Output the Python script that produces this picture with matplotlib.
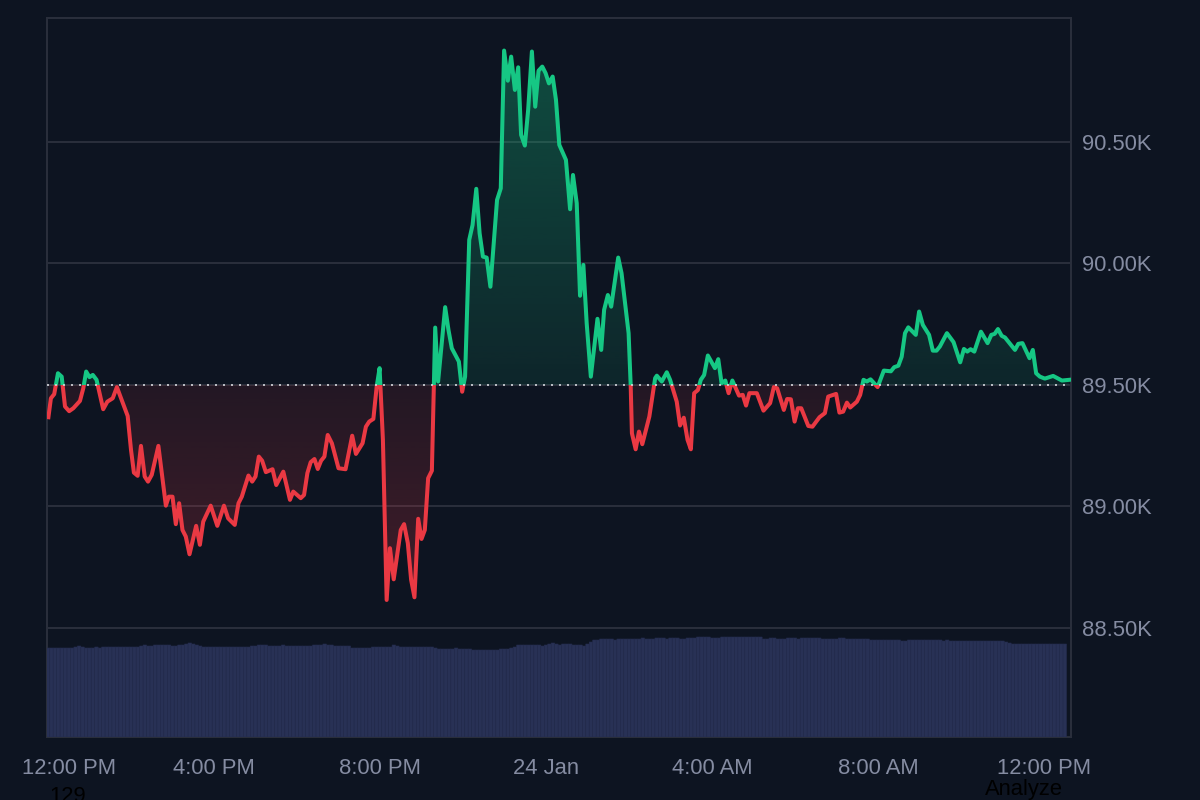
import numpy as np
from matplotlib import pyplot as plt
from matplotlib.path import Path
from matplotlib.patches import Rectangle

plt.rcParams['font.family'] = ['Liberation Sans', 'DejaVu Sans']

BG = '#0d1421'
GRID = '#2a2f3c'
TEXT = '#858ca2'
GREEN = '#16c784'
RED = '#ea3943'
VOL = '#283155'

# hours since 12:00 PM, price in thousands
hours = [0.01, 0.07, 0.15, 0.24, 0.33, 0.41, 0.51, 0.61, 0.77, 0.85, 0.92, 1.00, 1.08, 1.17, 1.33, 1.43, 1.56, 1.66, 1.92, 2.00,
         2.07, 2.16, 2.24, 2.33, 2.41, 2.50, 2.66, 2.84, 2.91, 3.00, 3.08, 3.16, 3.24, 3.32, 3.41, 3.57, 3.66, 3.74, 3.92, 4.08,
         4.24, 4.34, 4.50, 4.59, 4.67, 4.83, 4.92, 5.00, 5.08, 5.16, 5.25, 5.41, 5.50, 5.67, 5.83, 5.91, 6.09, 6.17, 6.25, 6.33,
         6.42, 6.50, 6.58, 6.66, 6.74, 6.84, 7.00, 7.17, 7.33, 7.42, 7.58, 7.66, 7.74, 7.84, 7.92, 7.99, 8.07, 8.16, 8.24, 8.33,
         8.50, 8.58, 8.67, 8.75, 8.83, 8.92, 9.00, 9.08, 9.16, 9.25, 9.33, 9.40, 9.57, 9.65, 9.73, 9.90, 9.98, 10.05, 10.15, 10.23,
         10.32, 10.40, 10.48, 10.57, 10.66, 10.82, 10.91, 10.99, 11.08, 11.16, 11.25, 11.33, 11.40, 11.49, 11.57, 11.66, 11.74, 11.82, 11.91, 11.99,
         12.07, 12.16, 12.24, 12.32, 12.48, 12.58, 12.65, 12.74, 12.82, 12.90, 12.98, 13.08, 13.24, 13.33, 13.40, 13.49, 13.57, 13.74, 13.82, 13.99,
         14.04, 14.07, 14.16, 14.24, 14.32, 14.49, 14.63, 14.67, 14.79, 14.91, 14.99, 15.15, 15.23, 15.32, 15.41, 15.49, 15.57, 15.66, 15.73, 15.81,
         15.90, 16.07, 16.15, 16.23, 16.32, 16.40, 16.49, 16.65, 16.74, 16.82, 16.90, 17.08, 17.24, 17.40, 17.49, 17.57, 17.73, 17.81, 17.90, 17.99,
         18.07, 18.15, 18.32, 18.42, 18.59, 18.72, 18.80, 18.99, 19.07, 19.16, 19.25, 19.33, 19.49, 19.57, 19.65, 19.73, 19.82, 19.99, 20.14, 20.31,
         20.39, 20.49, 20.57, 20.65, 20.73, 20.91, 20.99, 21.08, 21.23, 21.32, 21.41, 21.49, 21.66, 21.82, 21.98, 22.07, 22.15, 22.23, 22.32, 22.48,
         22.64, 22.73, 22.81, 22.89, 22.98, 23.06, 23.30, 23.38, 23.48, 23.65, 23.73, 23.81, 23.90, 24.02, 24.22, 24.43, 24.61]

prices = [89.367, 89.445, 89.462, 89.548, 89.534, 89.411, 89.392, 89.404, 89.434, 89.486, 89.555, 89.532, 89.541, 89.521, 89.400, 89.431, 89.445, 89.491, 89.372, 89.233,
          89.139, 89.126, 89.249, 89.123, 89.102, 89.130, 89.249, 89.003, 89.040, 89.040, 88.927, 89.013, 88.903, 88.876, 88.803, 88.920, 88.842, 88.937, 89.003, 88.920,
          89.003, 88.951, 88.924, 89.013, 89.040, 89.127, 89.102, 89.123, 89.205, 89.188, 89.141, 89.153, 89.088, 89.143, 89.027, 89.061, 89.034, 89.047, 89.137, 89.182,
          89.195, 89.154, 89.188, 89.205, 89.294, 89.260, 89.157, 89.153, 89.291, 89.216, 89.260, 89.328, 89.349, 89.360, 89.493, 89.569, 89.274, 88.615, 88.828, 88.700,
          88.903, 88.927, 88.849, 88.698, 88.626, 88.949, 88.866, 88.903, 89.116, 89.147, 89.736, 89.514, 89.820, 89.726, 89.651, 89.596, 89.472, 89.534, 90.097, 90.158,
          90.307, 90.124, 90.028, 90.024, 89.904, 90.261, 90.309, 90.876, 90.752, 90.851, 90.714, 90.807, 90.529, 90.485, 90.632, 90.872, 90.645, 90.793, 90.810, 90.783,
          90.741, 90.769, 90.673, 90.488, 90.426, 90.223, 90.364, 90.248, 89.867, 89.994, 89.754, 89.534, 89.772, 89.644, 89.809, 89.870, 89.822, 90.024, 89.960, 89.713,
          89.500, 89.301, 89.235, 89.308, 89.256, 89.370, 89.528, 89.538, 89.514, 89.552, 89.521, 89.431, 89.333, 89.365, 89.274, 89.235, 89.466, 89.479, 89.521, 89.541,
          89.621, 89.569, 89.606, 89.507, 89.518, 89.466, 89.518, 89.456, 89.459, 89.415, 89.466, 89.466, 89.394, 89.425, 89.491, 89.486, 89.397, 89.442, 89.441, 89.349,
          89.404, 89.404, 89.331, 89.328, 89.367, 89.384, 89.452, 89.463, 89.386, 89.390, 89.427, 89.407, 89.431, 89.459, 89.521, 89.514, 89.523, 89.491, 89.559, 89.556,
          89.573, 89.579, 89.616, 89.713, 89.737, 89.706, 89.802, 89.747, 89.706, 89.641, 89.641, 89.658, 89.713, 89.676, 89.593, 89.648, 89.637, 89.647, 89.637, 89.719,
          89.672, 89.706, 89.710, 89.730, 89.702, 89.695, 89.644, 89.669, 89.672, 89.610, 89.644, 89.548, 89.534, 89.526, 89.537, 89.518, 89.521]

# one bar every 5 minutes
volume = [89, 89, 89, 89, 89, 89, 89, 89, 90, 91, 90, 89, 89, 89, 90, 89, 90, 90, 90, 90,
          90, 90, 90, 90, 90, 90, 90, 91, 92, 91, 91, 92, 92, 92, 92, 92, 91, 91, 92, 92,
          93, 94, 93, 92, 91, 90, 90, 90, 90, 90, 90, 90, 90, 90, 90, 90, 90, 90, 90, 91,
          91, 92, 92, 92, 91, 91, 91, 91, 92, 91, 91, 91, 91, 91, 91, 91, 91, 92, 92, 92,
          93, 92, 92, 91, 91, 91, 91, 91, 89, 89, 89, 89, 89, 89, 90, 90, 90, 90, 90, 90,
          92, 91, 90, 90, 90, 90, 90, 90, 90, 90, 90, 90, 89, 88, 88, 88, 88, 88, 89, 88,
          88, 88, 88, 87, 87, 87, 87, 87, 87, 87, 87, 88, 88, 88, 89, 90, 92, 92, 92, 92,
          92, 92, 92, 91, 92, 93, 94, 93, 92, 93, 93, 93, 92, 92, 92, 91, 93, 95, 97, 97,
          98, 98, 98, 98, 97, 98, 98, 98, 98, 98, 98, 98, 99, 98, 98, 98, 99, 99, 99, 98,
          99, 99, 99, 98, 98, 99, 99, 99, 100, 100, 100, 100, 99, 99, 99, 100, 100, 100, 100, 100,
          100, 100, 100, 100, 100, 100, 100, 98, 98, 99, 99, 98, 98, 98, 99, 99, 99, 98, 99, 99,
          99, 99, 99, 99, 98, 98, 98, 98, 98, 99, 99, 98, 98, 98, 98, 98, 98, 98, 97, 97,
          97, 97, 97, 97, 97, 97, 97, 96, 96, 97, 97, 97, 97, 97, 97, 97, 97, 97, 97, 96,
          97, 96, 96, 96, 96, 96, 96, 96, 96, 96, 96, 96, 96, 96, 96, 96, 96, 95, 94, 93,
          93, 93, 93, 93, 93, 93, 93, 93, 93, 93, 93, 93, 93, 93, 93]

base_price = 89.5
price_ticks = [88.5, 89.0, 89.5, 90.0, 90.5]
price_labels = ['88.50K', '89.00K', '89.50K', '90.00K', '90.50K']
time_ticks = [0.5, 4, 8, 12, 16, 20, 24]
time_labels = ['12:00 PM', '4:00 PM', '8:00 PM', '24 Jan', '4:00 AM', '8:00 AM', '12:00 PM']

hours = np.array(hours)
prices = np.array(prices)
volume = np.array(volume)

fig = plt.figure(facecolor=BG)
fig.set_size_inches(12, 8)
ax1 = fig.add_axes([47 / 1200, 1 - 737 / 800, 1024 / 1200, 719 / 800], facecolor=BG)
xlim = (-0.024, 24.65)
ylim = (88.051, 91.010)
ax1.set_xlim(xlim)
ax1.set_ylim(ylim)

for s in ax1.spines.values():
    s.set_color(GRID)
    s.set_linewidth(1.4)

ax1.set_xticks(time_ticks)
ax1.set_xticklabels(time_labels)
ax1.set_yticks(price_ticks)
ax1.set_yticklabels(price_labels)
ax1.grid(axis='y', color=GRID, linewidth=1.4)
ax1.set_axisbelow(True)


def gradient_fill(where, color, low_alpha, high_alpha, top, bottom):
    coll = ax1.fill_between(hours, prices, base_price, where=where, interpolate=True, color='none')
    path = Path.make_compound_path(*coll.get_paths())
    rgba = np.zeros((256, 1, 4))
    rgba[:, 0, :3] = plt.matplotlib.colors.to_rgb(color)
    rgba[:, 0, 3] = np.linspace(high_alpha, low_alpha, 256) if top > base_price else np.linspace(low_alpha, high_alpha, 256)
    im = ax1.imshow(rgba, extent=(xlim[0], xlim[1], bottom, top), aspect='auto', origin='upper', zorder=1.5)
    im.set_clip_path(path, ax1.transData)


gradient_fill(prices >= base_price, GREEN, 0.10, 0.32, prices.max(), base_price)
gradient_fill(prices <= base_price, RED, 0.10, 0.24, base_price, prices.min())
ax1.set_xlim(xlim)
ax1.set_ylim(ylim)

# same line twice, each half cut at the base price
up, = ax1.plot(hours, prices, color=GREEN, linewidth=2.9, zorder=3, solid_joinstyle='round')
down, = ax1.plot(hours, prices, color=RED, linewidth=2.9, zorder=3, solid_joinstyle='round')
up.set_clip_path(Rectangle((xlim[0], base_price), xlim[1] - xlim[0], ylim[1] - base_price, transform=ax1.transData))
down.set_clip_path(Rectangle((xlim[0], ylim[0]), xlim[1] - xlim[0], base_price - ylim[0], transform=ax1.transData))

ax1.axhline(base_price, color='#d5d7dc', linewidth=1.2, linestyle=(0, (1.2, 3.6)), zorder=4)

ax2 = ax1.twinx()
ax2.patch.set_visible(False)
ax2.set_ylim(0, 719)
ax2.axis('off')
bar_hours = np.arange(len(volume)) * 5 / 60
ax2.bar(bar_hours, volume, width=0.0833, color=VOL, edgecolor='#232b4d', linewidth=0.4, snap=False)
ax2.set_xlim(xlim)

# twinx puts the ticks back on the left
ax1.yaxis.tick_right()
ax1.tick_params(axis='y', length=0, pad=8, labelsize=15.8, labelcolor=TEXT)
ax1.tick_params(axis='x', length=0, pad=15, labelsize=15.8, labelcolor=TEXT)

fig.text(68 / 1200, 1 - 796 / 800, '129', color='black', fontsize=15.8, ha='center', va='center')
fig.text(1024 / 1200, 1 - 789 / 800, 'Analyze', color='black', fontsize=15.8, ha='center', va='center')

plt.savefig('out.png', dpi=100, facecolor=BG)
plt.close()
